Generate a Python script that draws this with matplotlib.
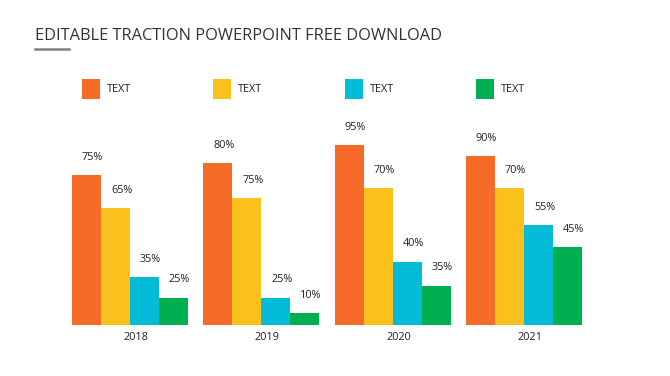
import numpy as np
import matplotlib
matplotlib.use("Agg")
import matplotlib.pyplot as plt
from matplotlib.patches import Rectangle
from matplotlib.lines import Line2D

plt.rcParams['font.family'] = ['Open Sans', 'DejaVu Sans']

# data
years = ["2018", "2019", "2020", "2021"]
series_names = ["TEXT", "TEXT", "TEXT", "TEXT"]
# bar heights as drawn (the template labels don't match the heights exactly)
bar_orange = [75, 81, 90, 84.5]
bar_yellow = [58.5, 63.5, 68.5, 68.5]
bar_cyan = [24, 13.5, 31.5, 50]
bar_green = [13.5, 6, 19.5, 39]
# labels printed above the bars
lab_orange = ["75%", "80%", "95%", "90%"]
lab_yellow = ["65%", "75%", "70%", "70%"]
lab_cyan = ["35%", "25%", "40%", "55%"]
lab_green = ["25%", "10%", "35%", "45%"]

colors = ["#F76B28", "#FAC01B", "#05BCD8", "#00AF50"]

W, H = 670, 376
fig = plt.figure(figsize=(W / 100, H / 100), dpi=100)
fig.patch.set_facecolor("white")

ax = fig.add_axes([64.35 / W, 51 / H, 525.3 / W, 200 / H])
ax.set_xlim(-0.5, 3.5)
ax.set_ylim(0, 100)
ax.axis("off")

x = np.arange(len(years))
bw = 29 / 131.3
heights = [bar_orange, bar_yellow, bar_cyan, bar_green]
labels = [lab_orange, lab_yellow, lab_cyan, lab_green]
for k in range(4):
    xs = x + (k - 1.5) * bw
    ax.bar(xs, heights[k], width=bw, color=colors[k], edgecolor="none")
    for xi, h, lab in zip(xs, heights[k], labels[k]):
        ax.annotate(lab, (xi, h), xytext=(6, 18), textcoords="offset pixels",
                    ha="center", va="center", fontsize=7.8, color="#222222",
                    annotation_clip=False)

for xi, yr in zip(x, years):
    ax.annotate(yr, (xi, 0), xytext=(6, -13), textcoords="offset pixels",
                ha="center", va="center", fontsize=7.8, color="#222222",
                annotation_clip=False)

# legend row
for k, name in enumerate(series_names):
    x0 = 82 + k * 131.3
    fig.add_artist(Rectangle((x0 / W, (H - 99) / H), 18 / W, 20 / H,
                             transform=fig.transFigure, facecolor=colors[k],
                             edgecolor="none"))
    fig.text((x0 + 25) / W, (H - 89) / H, name, ha="left", va="center",
             fontsize=7.8, color="#222222")

# title + short underline
fig.text(35 / W, (H - 36) / H, "EDITABLE TRACTION POWERPOINT FREE DOWNLOAD",
         ha="left", va="center", fontsize=11.8, color="#333333")
fig.add_artist(Line2D([35 / W, 69 / W], [(H - 49) / H] * 2,
                      transform=fig.transFigure, color="#7F7F7F", lw=1.8))

fig.savefig("out.png", dpi=100)
